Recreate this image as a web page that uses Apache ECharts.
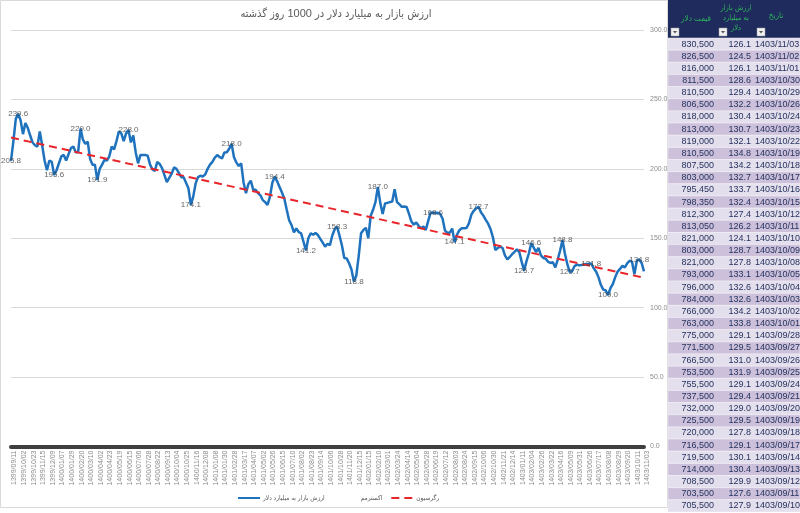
<!DOCTYPE html>
<html><head><meta charset="utf-8">
<script src="https://cdn.jsdelivr.net/npm/echarts@6/dist/echarts.min.js"></script>
<style>html,body{margin:0;padding:0;background:#fff}#c{width:800px;height:513px}</style>
</head><body><div id="c"></div>
<script>
const tickLabels = ['1399/09/11','1399/10/02','1399/10/23','1399/11/15','1399/12/09','1400/01/07','1400/01/29','1400/02/20','1400/03/10','1400/04/02','1400/04/23','1400/05/19','1400/06/15','1400/07/06','1400/07/28','1400/08/22','1400/09/13','1400/10/04','1400/10/25','1400/11/16','1400/12/08','1401/01/08','1401/01/30','1401/02/28','1401/03/17','1401/04/07','1401/05/02','1401/05/26','1401/06/15','1401/07/10','1401/08/02','1401/08/23','1401/09/14','1401/10/06','1401/10/28','1401/11/20','1401/12/15','1402/01/15','1402/02/10','1402/03/01','1402/03/24','1402/04/14','1402/05/04','1402/05/28','1402/06/19','1402/07/12','1402/08/03','1402/08/24','1402/09/15','1402/10/06','1402/10/30','1402/11/21','1402/12/14','1403/01/11','1403/02/04','1403/02/26','1403/03/22','1403/04/16','1403/05/09','1403/05/31','1403/06/26','1403/07/17','1403/08/08','1403/08/29','1403/09/20','1403/10/11','1403/11/03'];
const marketValue = [
205.8,220,236,239.6,235,225,233,229.5,224,219,
217,216,227,217,206,199,206,205,195.6,199,
204,209,210,206,210.5,214.9,216,212,212,229.0,
221,218,219.5,207,203,203,191.9,200,203,206.5,
206,209,216,214,220,227,225.5,220,225.5,228.0,
219,224,212,204,210,210,210,209.5,203,199.5,
198.5,205,203.5,200.5,195.5,190.5,193.5,196.5,201,200,
197,194,194,190,186,174.1,180,189.5,194,195,
194.5,196,200,203,205,208,210,208.5,207.5,211.8,
212,214.5,218.0,208.4,204.5,202,204,190,182.5,189,
191.5,185,185,182.5,181,177.5,176,174,180,190,
194.4,191,187,183,178.5,170.5,163,159.5,154.3,157,
154.5,153.5,147.5,141.2,150,153.6,152.5,153.8,152.3,149.5,
146.8,144,146,145,152,156.5,158.3,152,145,135.8,
135.5,132,127.5,118.8,123,137,153.6,156,157.5,150,
166,170.5,176,187.0,175.5,167.5,175,175.5,176,176.5,
185.3,176,174.5,172.6,172.8,172.5,167.5,162,159.8,161.3,
159,157.2,158.5,156,162.5,168.4,168.6,168.2,168.3,167.5,
164,155.5,154,154,157,147.1,152.5,155.8,157.2,157.2,
157.4,160.8,167,169.8,171.6,172.7,168.7,166.3,163.3,160.5,
156.5,150.7,141.5,143,144,143,137.7,134.8,136.5,138.5,
140.2,142,140,133,126.7,133.5,139.2,146.6,143.3,140,
143,137.7,135.8,135.3,133,132.2,132.7,129,134.5,141,
148.8,139,131.5,125.7,126.2,129.8,131,130.5,130.8,131.2,
131.5,131.6,131.8,128.5,126,122,116.5,113,112.5,109.0,
114,117,122,126,127.9,130.1,129.0,131.9,133.8,133.1,
124.1,133.7,134.8,132.2,126.1];
const extremaIdx = [0,3,18,29,36,49,75,92,110,123,136,143,153,176,185,195,214,217,230,233,242,249,262];
const regressionEnds = [222.5, 121.5];
const seriesNames = ['ارزش بازار به میلیارد دلار','اکسترمم','رگرسیون'];
const titleText = 'ارزش بازار به میلیارد دلار در 1000 روز گذشته';
const tableHeaders = ['قیمت دلار','ارزش بازار\nبه میلیارد\nدلار','تاریخ'];
const tableDates = ['1403/11/03','1403/11/02','1403/11/01','1403/10/30','1403/10/29','1403/10/26','1403/10/24','1403/10/23','1403/10/22','1403/10/19','1403/10/18','1403/10/17','1403/10/16','1403/10/15','1403/10/12','1403/10/11','1403/10/10','1403/10/09','1403/10/08','1403/10/05','1403/10/04','1403/10/03','1403/10/02','1403/10/01','1403/09/28','1403/09/27','1403/09/26','1403/09/25','1403/09/24','1403/09/21','1403/09/20','1403/09/19','1403/09/18','1403/09/17','1403/09/14','1403/09/13','1403/09/12','1403/09/11','1403/09/10'];
const tableValues = [126.1,124.5,126.1,128.6,129.4,132.2,130.4,130.7,132.1,134.8,134.2,132.7,133.7,132.4,127.4,126.2,124.1,128.7,127.8,133.1,132.6,132.6,134.2,133.8,129.1,129.5,131.0,131.9,129.1,129.4,129.0,129.5,127.8,129.1,130.1,130.4,129.9,127.6,127.9];
const tablePrices = [830500,826500,816000,811500,810500,806500,818000,813000,819000,810500,807500,803000,795450,798350,812300,813050,821000,803000,821000,793000,796000,784000,766000,763000,775000,771500,766500,753500,755500,737500,732000,725500,720000,716500,719500,714000,708500,703500,705500];

const FONT = '"Liberation Sans","DejaVu Sans",sans-serif';
const AFONT = '"Liberation Sans","DejaVu Sans Condensed","DejaVu Sans",sans-serif';
const chart = echarts.init(document.getElementById('c'));
const lastIdx = marketValue.length - 1;
const fmtPrice = v => v.toLocaleString('en-US');

const headerGraphics = [
  {type:'rect', shape:{x:0.5,y:0.5,width:667,height:507}, style:{fill:'none', stroke:'#d9d9d9', lineWidth:1}, silent:true},
  {type:'text', style:{text:titleText, x:336, y:14, align:'center', verticalAlign:'middle', fill:'#595959', font:'11px '+AFONT}},
  {type:'rect', shape:{x:668,y:0,width:132,height:38}, style:{fill:'#1e2b5c'}},
  {type:'text', style:{text:tableHeaders[0], x:696, y:19, align:'center', verticalAlign:'middle', fill:'#2fb65c', font:'8px '+AFONT}},
  {type:'text', style:{text:tableHeaders[1], x:736, y:18, align:'center', verticalAlign:'middle', fill:'#2fb65c', font:'7.5px '+AFONT, lineHeight:10}},
  {type:'text', style:{text:tableHeaders[2], x:776, y:16, align:'center', verticalAlign:'middle', fill:'#2fb65c', font:'8px '+AFONT}}
];
[671, 719, 757].forEach(x => {
  headerGraphics.push({type:'rect', shape:{x:x,y:28,width:8,height:8}, style:{fill:'#f0f0f0', stroke:'#a0a0a0', lineWidth:0.5}});
  headerGraphics.push({type:'polygon', shape:{points:[[x+2,31],[x+6,31],[x+4,33.5]]}, style:{fill:'#555'}});
});

chart.setOption({
  animation:false,
  backgroundColor:'#fff',
  textStyle:{fontFamily:FONT},
  legend:{left:237, top:494, padding:0, itemWidth:22, itemHeight:8, itemGap:8,
    textStyle:{fontSize:6.5, color:'#595959', fontFamily:AFONT, padding:[0,0,0,-2]},
    data:[{name:seriesNames[0], itemStyle:{opacity:0}},
      {name:seriesNames[1], itemStyle:{opacity:0}, textStyle:{padding:[0,0,0,8]}},
      {name:seriesNames[2], itemStyle:{opacity:0}}]},
  grid:[
    {left:11, right:156, top:30, bottom:66.5},
    {left:668, top:38, width:132, height:474}
  ],
  xAxis:[
    {type:'value', gridIndex:0, min:0, max:lastIdx, interval:4,
      axisLine:{show:true, lineStyle:{color:'#3f3f3f', width:4}},
      axisTick:{show:false}, splitLine:{show:false},
      axisLabel:{rotate:90, fontSize:7, color:'#8c8c8c', margin:4, fontFamily:FONT, verticalAlign:'top',
        formatter:v => tickLabels[Math.round(v/4)] || ''}},
    {type:'value', gridIndex:1, min:0, max:1, show:false}
  ],
  yAxis:[
    {type:'value', gridIndex:0, position:'right', min:0, max:300, interval:50,
      axisLine:{show:false}, axisTick:{show:false},
      splitLine:{lineStyle:{color:'#d9d9d9', width:1}},
      axisLabel:{fontSize:7, color:'#8c8c8c', margin:6, fontFamily:FONT, formatter:v => v.toFixed(1)}},
    {type:'category', gridIndex:1, data:tableDates, inverse:true, show:false}
  ],
  graphic:headerGraphics,
  series:[
    {name:seriesNames[0], type:'line', xAxisIndex:0, yAxisIndex:0, symbol:'none',
      data:marketValue.map((v,i)=>[i,v]), color:'#1f72bd',
      lineStyle:{color:'#1f72bd', width:2.5}, z:2},
    {name:seriesNames[1], type:'scatter', xAxisIndex:0, yAxisIndex:0, symbolSize:2,
      data:extremaIdx.map(i=>[i, marketValue[i]]), itemStyle:{color:'rgba(0,0,0,0)'},
      label:{show:true, position:'inside', formatter:p=>p.value[1].toFixed(1), fontSize:8, color:'#404040', fontFamily:FONT}, z:5},
    {name:seriesNames[2], type:'line', xAxisIndex:0, yAxisIndex:0, symbol:'none',
      data:[[0, regressionEnds[0]],[lastIdx, regressionEnds[1]]], color:'#e8252a',
      lineStyle:{color:'#e8252a', width:2, type:[8,5]}, z:3},
    {type:'custom', xAxisIndex:1, yAxisIndex:1, silent:true,
      data:tableDates.map((d,i)=>[0,i]),
      encode:{x:0, y:1},
      renderItem:function(params, api){
        const i = api.value(1);
        const p = api.coord([0, i]);
        const h = api.size([0, 1])[1];
        const x0 = params.coordSys.x, w = params.coordSys.width;
        const top = p[1] - h/2;
        const fill = i % 2 === 0 ? '#E4DFEC' : '#CCC0DA';
        const f = '9px ' + FONT, col = '#26335f';
        return {type:'group', children:[
          {type:'rect', shape:{x:x0, y:top, width:w, height:h}, style:{fill:fill, stroke:'#f4f2f8', lineWidth:0.5}},
          {type:'text', style:{text:fmtPrice(tablePrices[i]), x:x0+46, y:p[1], align:'right', verticalAlign:'middle', fill:col, font:f}},
          {type:'text', style:{text:tableValues[i].toFixed(1), x:x0+83, y:p[1], align:'right', verticalAlign:'middle', fill:col, font:f}},
          {type:'text', style:{text:tableDates[i], x:x0+87, y:p[1], align:'left', verticalAlign:'middle', fill:col, font:f}}
        ]};
      }}
  ]
});
</script></body></html>
